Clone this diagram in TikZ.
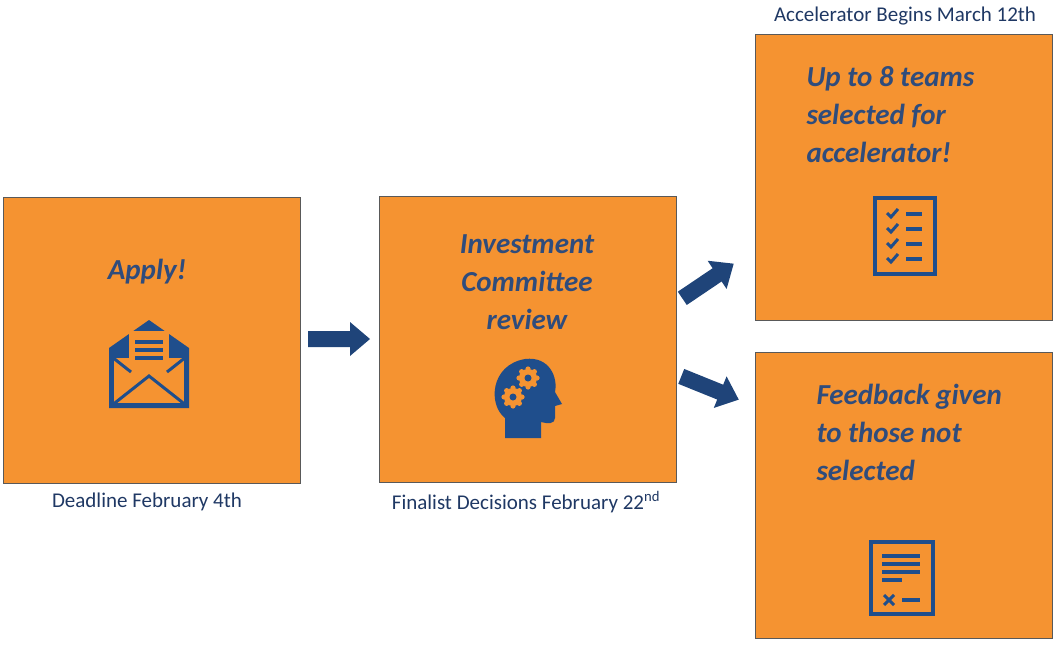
\documentclass[tikz,border=0pt]{standalone}
\usepackage{fontspec}
\setmainfont{Carlito}
\usetikzlibrary{positioning}
\definecolor{boxorange}{HTML}{F59331}
\definecolor{textblue}{HTML}{2F4C7C}
\definecolor{iconblue}{HTML}{1F4E8C}
\definecolor{arrowblue}{HTML}{1F4479}
\definecolor{labelblue}{HTML}{1F3864}
\begin{document}
\begin{tikzpicture}
	[x=1pt, y=-1pt,
	 stage/.style={draw=gray!70!black, line width=0.8pt, fill=boxorange, minimum width=297pt, minimum height=286pt, inner sep=0pt},
	 heading/.style={text=textblue, font=\fontsize{29}{38}\selectfont\bfseries\itshape},
	 caption/.style={text=labelblue, font=\fontsize{21}{24}\selectfont},
	 icon/.style={iconblue, line width=5pt}]
   \useasboundingbox (0,0) rectangle (1058,645);
   \node[stage] (apply) at (151.5,340) {};
   \node[stage] (review) at (527.5,339.5) {};
   \node[stage] (accel) at (903.5,177.5) {};
   \node[stage] (feedback) at (903.5,495.5) {};

   \node[heading] (applyt) at (147,272) {Apply!};
   \node[heading, align=center] (reviewt) at (527,282) {Investment\\Committee\\review};
   \node[heading, align=left, anchor=west] (accelt) at (803,115) {Up to 8 teams\\selected for\\accelerator!};
   \node[heading, align=left, anchor=west] (feedbackt) at (813,432) {Feedback given\\to those not\\selected};

   \node[caption] (deadline) at (147,502) {Deadline February 4th};
   \node[caption] (finalist) at (526,502) {Finalist Decisions February 22\textsuperscript{nd}};
   \node[caption] (begins) at (905,16) {Accelerator Begins March 12th};

   % block arrows
   \foreach \cx/\cy/\ang in {339/339/0, 708/281/34, 710/388/-22}
     \fill[arrowblue, shift={(\cx,\cy)}, rotate=\ang]
       (-31,-8) -- (11,-8) -- (11,-17) -- (31,0) -- (11,17) -- (11,8) -- (-31,8) -- cycle;

   % envelope
   \fill[iconblue] (109,348) -- (149,320) -- (189,348) -- (189,408) -- (109,408) -- cycle;
   \fill[boxorange] (114,358) rectangle (184,403);
   \fill[boxorange] (129,331) rectangle (169,374);
   \foreach \yy in {340,348,356} \fill[iconblue] (135,\yy) rectangle (163,\yy+3.5);
   \draw[iconblue, line width=3pt] (111,406) -- (149,376) -- (187,406);
   \draw[iconblue, line width=3pt] (112,357) -- (131,372);
   \draw[iconblue, line width=3pt] (186,357) -- (167,372);

   % head with gears
   \fill[iconblue] (505,438) -- (505,418) .. controls (488,405) and (490,365) .. (525,359)
      .. controls (550,356) and (558,378) .. (555,392) -- (562,404) -- (555,406) -- (555,418)
      .. controls (555,424) and (548,424) .. (541,422) -- (541,438) -- cycle;
   \foreach \cx/\cy/\r in {528/378/9, 513/397/9} {
     \foreach \a in {0,45,...,315} \fill[boxorange] (\cx,\cy) ++(\a:\r) circle (2.6pt);
     \fill[boxorange] (\cx,\cy) circle (\r pt);
     \fill[iconblue] (\cx,\cy) circle (3.5pt);
   }

   % checklist
   \draw[iconblue, line width=4pt] (875,198) rectangle (935,274);
   \foreach \yy in {213,228,243,258} {
     \draw[iconblue, line width=3pt] (887,\yy) -- (891,\yy+4) -- (898,\yy-4);
     \draw[iconblue, line width=4pt] (906,\yy+1) -- (922,\yy+1);
   }

   % document with cross
   \draw[iconblue, line width=4pt] (871,542) rectangle (933,614);
   \foreach \yy in {556,564,572} \draw[iconblue, line width=3.5pt] (882,\yy) -- (920,\yy);
   \draw[iconblue, line width=3.5pt] (882,580) -- (902,580);
   \draw[iconblue, line width=3pt] (884,595) -- (894,605) (894,595) -- (884,605);
   \draw[iconblue, line width=3.5pt] (902,600) -- (920,600);
\end{tikzpicture}
\end{document}
